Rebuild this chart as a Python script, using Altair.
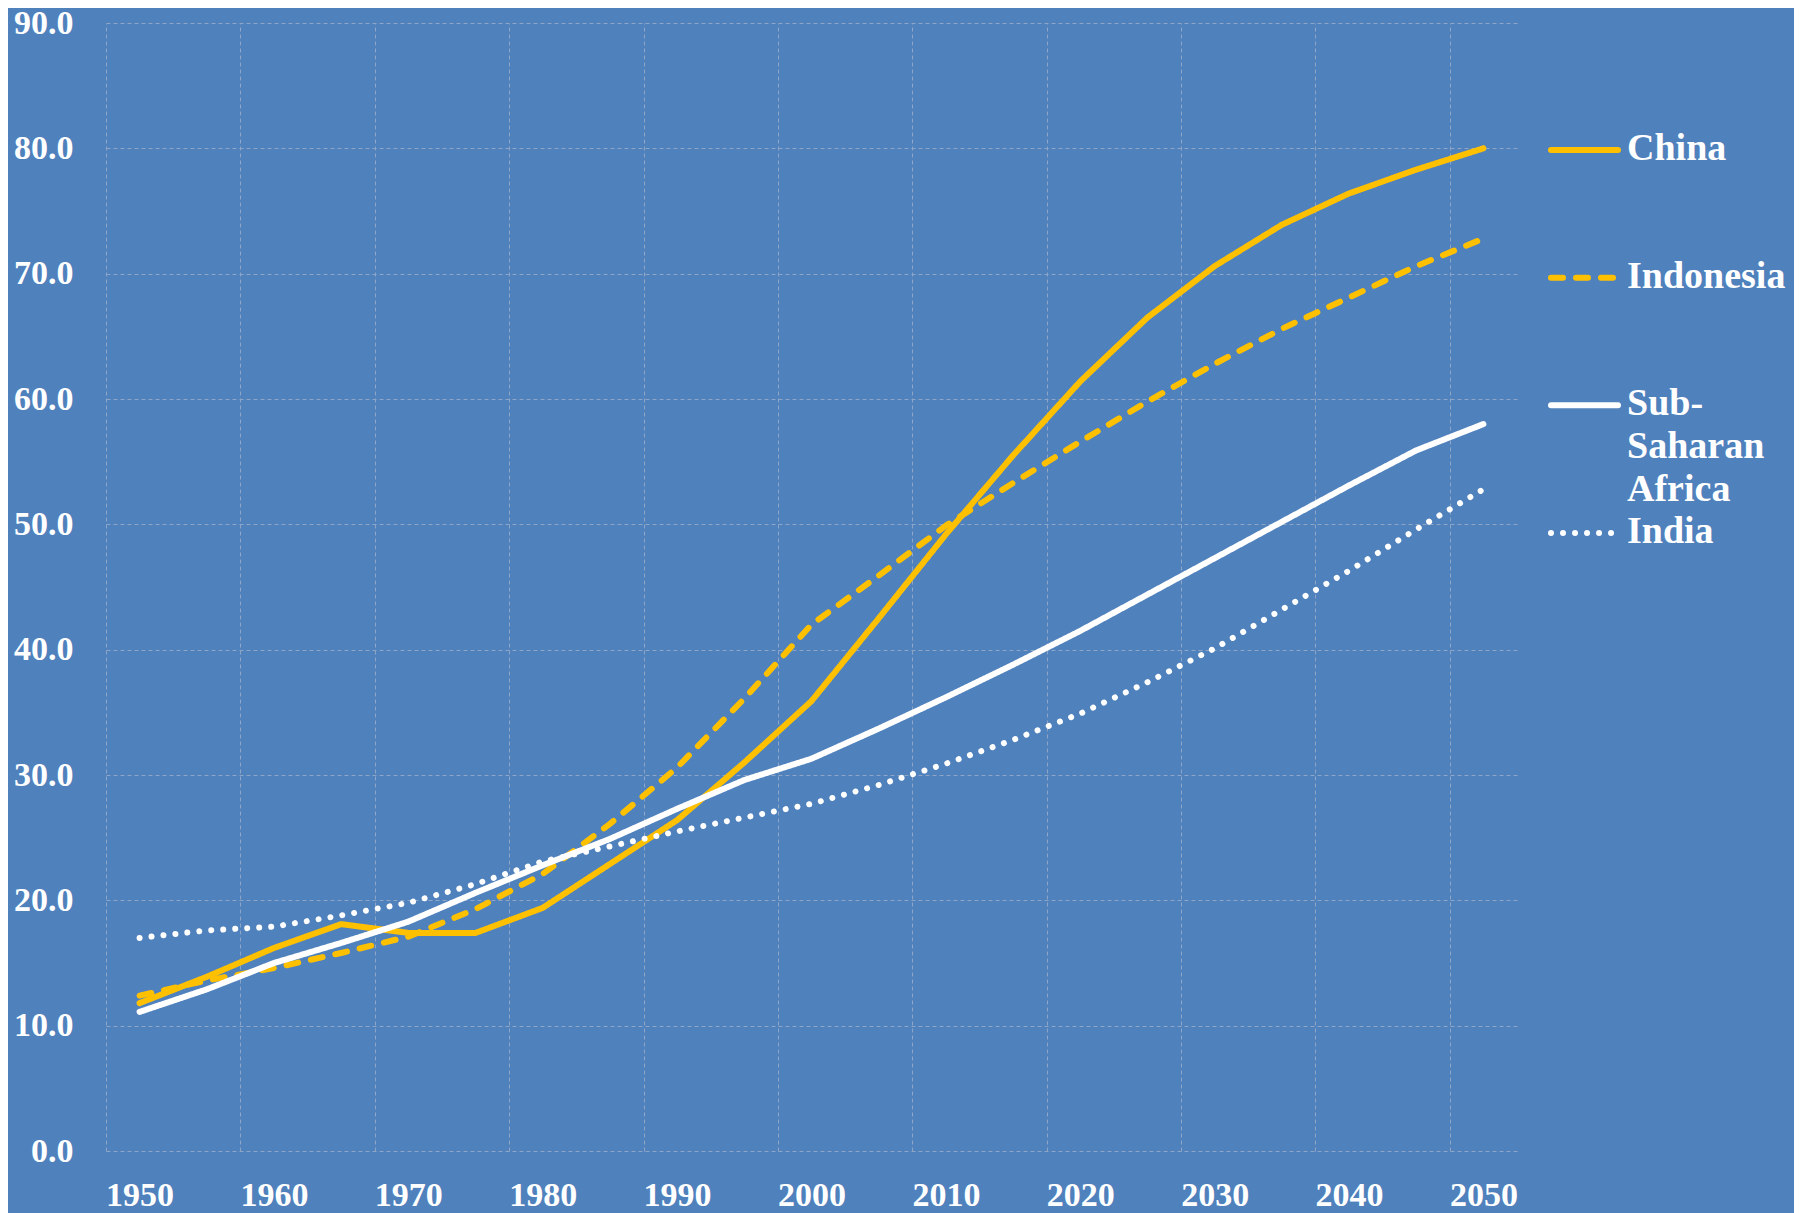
import altair as alt
import pandas as pd

# ---- data (urban population share, %) ----
years = [1950, 1955, 1960, 1965, 1970, 1975, 1980, 1985, 1990, 1995, 2000,
         2005, 2010, 2015, 2020, 2025, 2030, 2035, 2040, 2045, 2050]
china = [11.8, 13.9, 16.2, 18.1, 17.4, 17.4, 19.4, 22.9, 26.4, 31.0, 35.9,
         42.5, 49.2, 55.5, 61.4, 66.5, 70.6, 73.9, 76.4, 78.3, 80.0]
indonesia = [12.4, 13.6, 14.6, 15.8, 17.1, 19.3, 22.1, 26.1, 30.6, 36.1, 42.0,
             45.9, 49.9, 53.3, 56.6, 59.8, 62.8, 65.6, 68.1, 70.6, 72.8]
ssa = [11.1, 12.9, 15.0, 16.6, 18.3, 20.6, 22.8, 24.9, 27.3, 29.6, 31.3,
       33.7, 36.2, 38.8, 41.5, 44.4, 47.3, 50.2, 53.1, 55.9, 58.0]
india = [17.0, 17.6, 17.9, 18.8, 19.8, 21.3, 23.1, 24.3, 25.5, 26.6, 27.7,
         29.2, 30.9, 32.8, 34.9, 37.4, 40.1, 43.2, 46.3, 49.6, 52.8]

series = ["China", "Indonesia", "Sub-Saharan Africa", "India"]
legend_labels = ["China", "Indonesia", "Sub-\nSaharan\nAfrica", "India"]
colors = ["#FFC000", "#FFC000", "#FFFFFF", "#FFFFFF"]
dashes = [[1, 0], [12, 13], [1, 0], [0.01, 12]]

label_years = [1950, 1960, 1970, 1980, 1990, 2000, 2010, 2020, 2030, 2040, 2050]
grid_years = [1947.5, 1957.5, 1967.5, 1977.5, 1987.5, 1997.5, 2007.5,
              2017.5, 2027.5, 2037.5, 2047.5]
y_ticks = [0, 10, 20, 30, 40, 50, 60, 70, 80, 90]

rows = []
for name, vals in zip(series, [china, indonesia, ssa, india]):
    for yr, v in zip(years, vals):
        rows.append({"year": yr, "value": v, "series": name})
df = pd.DataFrame(rows)
leg = pd.DataFrame({"series": series, "label": legend_labels})

FONT = "Liberation Serif"
BG = "#4F81BD"
GRID = "#8FA5C6"

xscale = alt.Scale(domain=[1947.5, 2052.5], nice=False, zero=False)
yscale = alt.Scale(domain=[0, 90], nice=False)
cscale = alt.Scale(domain=series, range=colors)
dscale = alt.Scale(domain=series, range=dashes)

yaxis = alt.Axis(values=y_ticks, format=".1f", title=None, grid=True,
                 gridColor=GRID, gridDash=[4, 3], gridWidth=1,
                 ticks=False, tickSize=0, domain=False, labelPadding=33,
                 labelFont=FONT, labelFontWeight="bold", labelFontSize=34,
                 labelColor="white")

grid_layer = alt.Chart(df).mark_line(opacity=0).encode(
    x=alt.X("year:Q", scale=xscale,
            axis=alt.Axis(orient="top", values=grid_years, grid=True,
                          gridColor=GRID, gridDash=[4, 3], gridWidth=1,
                          labels=False, ticks=False, tickSize=0,
                          domain=False, title=None)),
    y=alt.Y("value:Q", scale=yscale, axis=yaxis),
)

lines = alt.Chart(df).mark_line(strokeWidth=6, strokeCap="round",
                                strokeJoin="round").encode(
    x=alt.X("year:Q", scale=xscale,
            axis=alt.Axis(values=label_years, format="d", grid=False,
                          ticks=False, tickSize=0, domain=False, title=None,
                          labelPadding=27, labelFont=FONT,
                          labelFontWeight="bold", labelFontSize=34,
                          labelColor="white", labelFlush=False)),
    y=alt.Y("value:Q", scale=yscale, axis=yaxis),
    color=alt.Color("series:N", scale=cscale, legend=None),
    strokeDash=alt.StrokeDash("series:N", scale=dscale, legend=None),
    detail="series:N",
)

main = alt.layer(grid_layer, lines).resolve_axis(x="independent")

lscale = alt.Scale(type="point", domain=series, range=[127, 510], padding=0)

leg_rule = alt.Chart(leg).mark_rule(strokeWidth=6, strokeCap="round").encode(
    x=alt.value(1445), x2=alt.value(1512),
    y=alt.Y("series:N", scale=lscale, axis=None),
    color=alt.Color("series:N", scale=cscale, legend=None),
    strokeDash=alt.StrokeDash("series:N", scale=dscale, legend=None),
)
leg_text = alt.Chart(leg).mark_text(
    align="left", baseline="alphabetic", dy=10, lineBreak="\n",
    lineHeight=43, font=FONT, fontWeight="bold", fontSize=38, color="white",
).encode(
    x=alt.value(1521),
    y=alt.Y("series:N", scale=lscale, axis=None),
    text="label:N",
)
legend = alt.layer(leg_rule, leg_text)

chart = alt.layer(main, legend).resolve_scale(
    y="independent", color="shared", strokeDash="shared"
).properties(
    width=1411, height=1128,
    autosize=alt.AutoSizeParams(type="none"),
    padding={"left": 98, "top": 15, "right": 277, "bottom": 62},
    background=BG,
).configure_view(stroke=None)

chart.save("out.html", embed_options={"renderer": "svg", "actions": False})
